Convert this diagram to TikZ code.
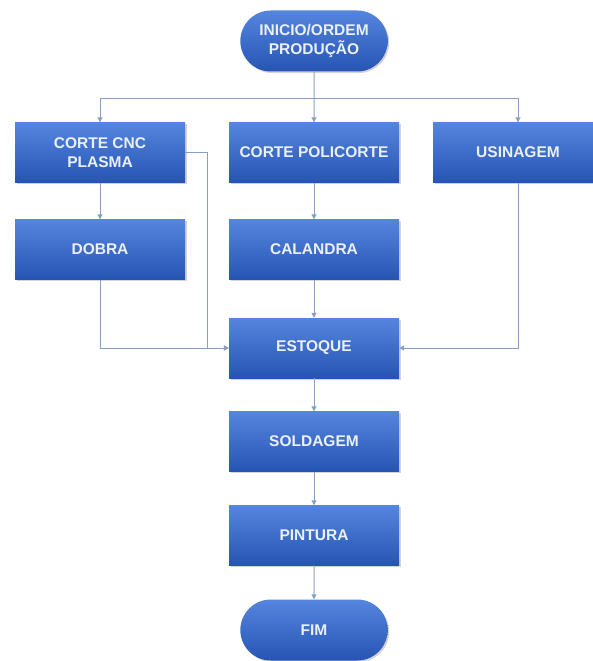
\documentclass[tikz,border=0pt]{standalone}
\usepackage{fontspec}
\setmainfont{Liberation Sans}
\usetikzlibrary{shapes.misc,shadows,arrows.meta}
\definecolor{boxtop}{RGB}{84,134,222}
\definecolor{boxbottom}{RGB}{38,84,180}
\definecolor{linegray}{RGB}{136,160,192}
\definecolor{boxtext}{RGB}{236,240,248}
\newcommand*{\boxtextstyle}{\fontsize{15.5}{19}\selectfont\bfseries\color{boxtext}}

\tikzset{
   box/.style = {
      rectangle,
      minimum width  = 170pt,
      minimum height = 60pt,
      top color      = boxtop,
      bottom color   = boxbottom,
      draw           = none,
      font           = \boxtextstyle,
      align          = center,
      drop shadow    = {opacity=0.35, shadow xshift=1.5pt, shadow yshift=-1.5pt}
   },
   terminal/.style = {
      box,
      rounded rectangle,
      minimum width  = 154pt,
      minimum height = 61pt
   },
   flow/.style = {
      draw  = linegray,
      line width = 1pt,
      -{Triangle[length=5pt,width=5pt]}
   }
}

\begin{document}
\begin{tikzpicture}[x=1pt,y=1pt]
   \useasboundingbox (0,0) rectangle (592,-661);

   \node (inicio)    at (314,-41)    [terminal] {INICIO/ORDEM\\PRODUÇÃO};

   \node (cnc)       at (100,-152.5) [box] {CORTE CNC\\PLASMA};
   \node (policorte) at (314,-152.5) [box] {CORTE POLICORTE};
   \node (usinagem)  at (518,-152.5) [box] {USINAGEM};

   \node (dobra)     at (100,-249.5) [box] {DOBRA};
   \node (calandra)  at (314,-249.5) [box] {CALANDRA};

   \node (estoque)   at (314,-348)   [box] {ESTOQUE};
   \node (soldagem)  at (314,-441.5) [box] {SOLDAGEM};
   \node (pintura)   at (314,-535.5) [box] {PINTURA};

   \node (fim)       at (314,-630)   [terminal] {FIM};

   % branches out of the start
   \coordinate (split) at (314,-98);
   \draw[flow] (inicio) -- (policorte);
   \draw[flow] (split) -| (cnc);
   \draw[flow] (split) -| (usinagem);

   \draw[flow] (cnc) -- (dobra);
   \draw[flow] (policorte) -- (calandra);

   % into stock
   \draw[flow] (dobra) |- (estoque);
   \draw[flow] (cnc.east) -- ++(22,0) |- (estoque.west);
   \draw[flow] (calandra) -- (estoque);
   \draw[flow] (usinagem) |- (estoque);

   \draw[flow] (estoque) -- (soldagem);
   \draw[flow] (soldagem) -- (pintura);
   \draw[flow] (pintura) -- (fim);

\end{tikzpicture}
\end{document}
